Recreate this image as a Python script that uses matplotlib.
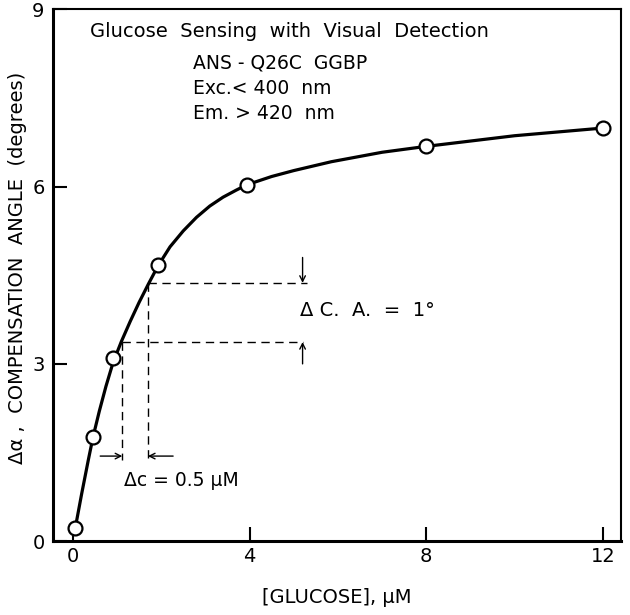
import matplotlib
matplotlib.use("Agg")
import matplotlib.pyplot as plt

### glucose sensing curve, ANS-Q26C GGBP ###

# measured points
glucose = [0.05, 0.46, 0.91, 1.93, 3.94, 8.0, 12.0]
angle = [0.22, 1.77, 3.10, 4.67, 6.03, 6.68, 6.99]

# smooth curve
curve_x = [0.05, 0.2, 0.35, 0.46, 0.6, 0.75, 0.91, 1.1, 1.3, 1.5, 1.71, 1.93, 2.2, 2.5, 2.8, 3.1, 3.4, 3.7, 3.94,
           4.5, 5.0, 5.85, 7.0, 8.0, 10.0, 12.0]
curve_y = [0.20, 0.80, 1.37, 1.77, 2.20, 2.62, 3.02, 3.38, 3.72, 4.04, 4.35, 4.66, 4.98, 5.25, 5.48, 5.67, 5.82, 5.94, 6.03,
           6.17, 6.27, 6.42, 6.58, 6.68, 6.86, 6.99]

# dashed construction lines
dash_x = [1.12, 1.70]
dash_y = [3.37, 4.37]

xticks = [0, 4, 8, 12]
yticks = [0, 3, 6, 9]

plt.rcParams['font.family'] = ['DejaVu Sans']

fig = plt.figure(figsize=(6.3, 6.15), dpi=100)
ax = fig.add_axes([0.084, 0.120, 0.902, 0.865])

ax.plot(curve_x, curve_y, color='black', lw=2.3, solid_joinstyle='round', solid_capstyle='round', zorder=2)
ax.plot(glucose, angle, 'o', ms=10, mfc='white', mec='black', mew=1.6, zorder=3)

dash = dict(color='black', lw=1.0, ls=(0, (6, 4)))
ax.plot([dash_x[0], 5.22], [dash_y[0], dash_y[0]], **dash)
ax.plot([dash_x[1], 5.30], [dash_y[1], dash_y[1]], **dash)
ax.plot([dash_x[0], dash_x[0]], [dash_y[0], 1.37], **dash)
ax.plot([dash_x[1], dash_x[1]], [dash_y[1], 1.37], **dash)

arrow = dict(arrowstyle='->', color='black', lw=1.0, shrinkA=0, shrinkB=0)
ax.annotate('', xy=(dash_x[0], 1.44), xytext=(0.62, 1.44), arrowprops=arrow)
ax.annotate('', xy=(dash_x[1], 1.44), xytext=(2.27, 1.44), arrowprops=arrow)
ax.annotate('', xy=(5.2, dash_y[1]), xytext=(5.2, 4.8), arrowprops=arrow)
ax.annotate('', xy=(5.2, dash_y[0]), xytext=(5.2, 3.0), arrowprops=arrow)

ax.text(5.15, 3.90, 'Δ C.  A.  =  1°', fontsize=14, va='center', ha='left')
ax.text(1.15, 1.03, 'Δc = 0.5 μM', fontsize=13.5, va='center', ha='left')

ax.text(0.40, 8.63, 'Glucose  Sensing  with  Visual  Detection', fontsize=14, va='center', ha='left')
ax.text(2.72, 8.09, 'ANS - Q26C  GGBP', fontsize=13.5, va='center', ha='left')
ax.text(2.72, 7.66, 'Exc.< 400  nm', fontsize=13.5, va='center', ha='left')
ax.text(2.72, 7.24, 'Em. > 420  nm', fontsize=13.5, va='center', ha='left')

ax.set_xlim(-0.45, 12.41)
ax.set_ylim(0, 9)
ax.set_xticks(xticks)
ax.set_yticks(yticks)
ax.tick_params(direction='in', length=10, width=1.5, labelsize=14)
ax.tick_params(axis='x', pad=4)
ax.tick_params(axis='y', pad=6)

for side in ['left', 'bottom']:
    ax.spines[side].set_linewidth(2.2)
for side in ['top', 'right']:
    ax.spines[side].set_linewidth(1.5)

ax.set_xlabel('[GLUCOSE], μM', fontsize=14, labelpad=16)
ax.set_ylabel('Δα ,  COMPENSATION  ANGLE  (degrees)', fontsize=14, va='center')
ax.yaxis.set_label_coords(-0.062, 0.513)

fig.savefig('out.png', dpi=100)
